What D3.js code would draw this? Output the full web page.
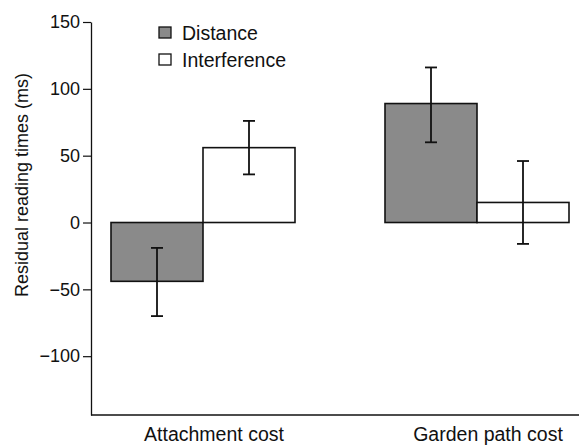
<!DOCTYPE html>
<html>
<head>
<meta charset="utf-8">
<script src="https://d3js.org/d3.v7.min.js"></script>
<style>
  body { margin: 0; background: #fff; }
  text { font-family: "Liberation Sans", Arial, sans-serif; fill: #111; }
</style>
</head>
<body>
<div id="my_dataviz"></div>
<script>
// data
var categories = ["Attachment cost", "Garden path cost"];
var series = ["Distance", "Interference"];
var means = [[-44, 56], [89, 15]];
var errLow = [[-70, 36], [60, -16]];
var errHigh = [[-19, 76], [116, 46]];
var yTicks = [150, 100, 50, 0, -50, -100];

var W = 579, H = 446;
var svg = d3.select("#my_dataviz").append("svg")
    .attr("width", W).attr("height", H);

// y scale: zero at ~222, 50 units ~ 67px
var y = d3.scaleLinear().domain([-144, 150]).range([415, 22]);

// group centres and bars within a group
var x0 = d3.scalePoint().domain(categories).range([203, 477]);
var x1 = d3.scaleBand().domain(series).range([-92, 92]);

var fills = { "Distance": "#8a8a8a", "Interference": "#ffffff" };

// y axis
var yAxis = svg.append("g")
    .attr("transform", "translate(91,0)")
    .call(d3.axisLeft(y).tickValues(yTicks).tickSize(8).tickPadding(3)
      .tickSizeOuter(0).tickFormat(function(d) { return d < 0 ? "\u2212" + Math.abs(d) : d; }));
yAxis.select(".domain").attr("stroke", "#111").attr("stroke-width", 1.3);
yAxis.selectAll(".tick line").attr("stroke", "#111").attr("stroke-width", 1.2);
yAxis.selectAll(".tick text").style("font-size", "18px").attr("fill", "#111");

// x axis line
svg.append("line")
    .attr("x1", 91).attr("x2", W)
    .attr("y1", y(-144)).attr("y2", y(-144))
    .attr("stroke", "#111").attr("stroke-width", 1.3);

// category labels
svg.selectAll(".cat")
  .data(categories)
  .enter().append("text")
    .attr("class", "cat")
    .attr("x", function(d) { return x0(d) + 11; })
    .attr("y", 441)
    .attr("text-anchor", "middle")
    .style("font-size", "19.5px")
    .text(function(d) { return d; });

// y title
svg.append("text")
    .attr("transform", "translate(28,185) rotate(-90)")
    .attr("text-anchor", "middle")
    .style("font-size", "18px")
    .text("Residual reading times (ms)");

// bars
var rows = [];
categories.forEach(function(c, i) {
  series.forEach(function(s, j) {
    rows.push({ cat: c, ser: s, v: means[i][j], lo: errLow[i][j], hi: errHigh[i][j] });
  });
});

svg.selectAll(".bar")
  .data(rows)
  .enter().append("rect")
    .attr("class", "bar")
    .attr("x", function(d) { return x0(d.cat) + x1(d.ser); })
    .attr("width", x1.bandwidth())
    .attr("y", function(d) { return y(Math.max(0, d.v)); })
    .attr("height", function(d) { return Math.abs(y(d.v) - y(0)); })
    .attr("fill", function(d) { return fills[d.ser]; })
    .attr("stroke", "#111")
    .attr("stroke-width", 1.6);

// error bars
var eb = svg.selectAll(".err")
  .data(rows)
  .enter().append("g")
    .attr("class", "err")
    .attr("transform", function(d) { return "translate(" + (x0(d.cat) + x1(d.ser) + x1.bandwidth() / 2) + ",0)"; });
eb.append("line")
    .attr("y1", function(d) { return y(d.lo); })
    .attr("y2", function(d) { return y(d.hi); })
    .attr("stroke", "#111").attr("stroke-width", 1.8);
eb.append("line")
    .attr("x1", -6).attr("x2", 6)
    .attr("y1", function(d) { return y(d.lo); })
    .attr("y2", function(d) { return y(d.lo); })
    .attr("stroke", "#111").attr("stroke-width", 1.8);
eb.append("line")
    .attr("x1", -6).attr("x2", 6)
    .attr("y1", function(d) { return y(d.hi); })
    .attr("y2", function(d) { return y(d.hi); })
    .attr("stroke", "#111").attr("stroke-width", 1.8);

// legend
var legend = svg.selectAll(".leg")
  .data(series)
  .enter().append("g")
    .attr("class", "leg")
    .attr("transform", function(d, i) { return "translate(159," + (33 + i * 27) + ")"; });
legend.append("rect")
    .attr("x", 0).attr("y", -6)
    .attr("width", 12).attr("height", 11)
    .attr("fill", function(d) { return fills[d]; })
    .attr("stroke", "#111").attr("stroke-width", 1.3);
legend.append("text")
    .attr("x", 23).attr("y", 7)
    .style("font-size", "19.5px")
    .text(function(d) { return d; });
</script>
</body>
</html>
